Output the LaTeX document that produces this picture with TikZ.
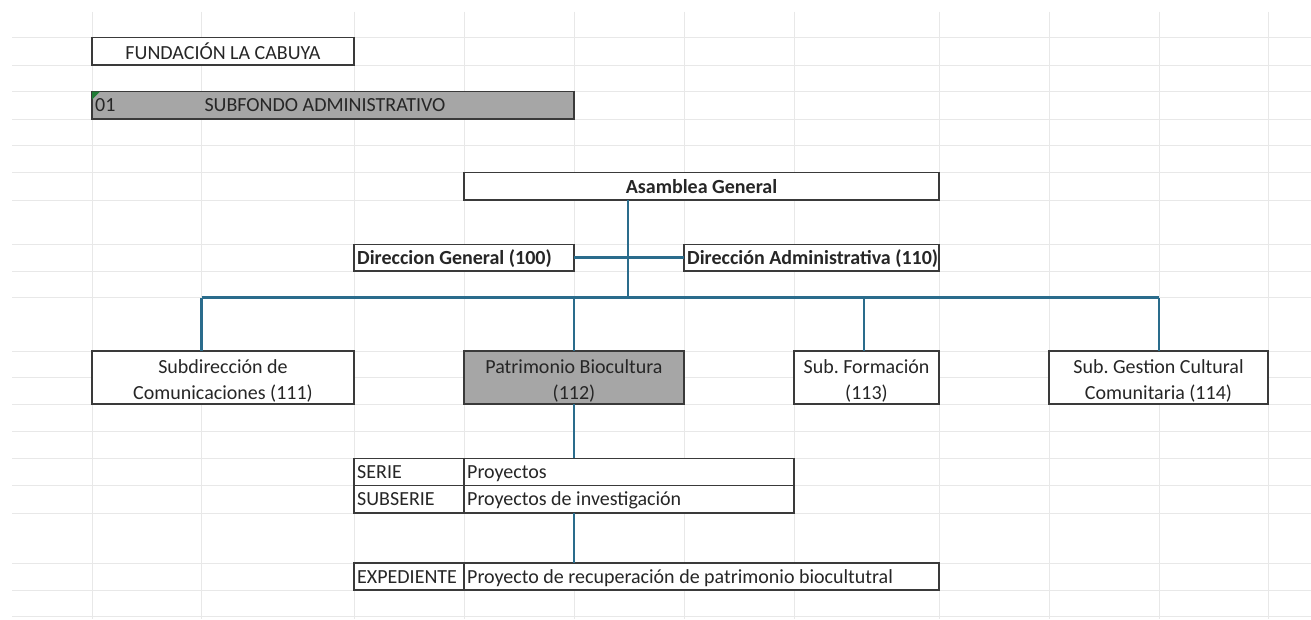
\documentclass[tikz,border=0pt]{standalone}
\usepackage{fontspec}
\setmainfont{Carlito}
\frenchspacing
\definecolor{gridc}{HTML}{E8E8E8}
\definecolor{linec}{HTML}{2A6C8C}
\definecolor{boxc}{HTML}{3A3A3A}
\definecolor{fillg}{HTML}{A6A6A6}
\definecolor{txt}{HTML}{262626}
\definecolor{flag}{HTML}{1E7B34}
\begin{document}
\frenchspacing
\begin{tikzpicture}[x=1pt,y=-1pt,
  gridline/.style={draw=gridc,line width=1pt},
  cell/.style={draw=boxc,line width=1.3pt,fill=white,inner sep=0pt,outer sep=0pt,
    text=txt,font=\fontsize{20}{26}\selectfont,align=center},
  graycell/.style={cell,fill=fillg},
  lab/.style={text=txt,font=\fontsize{20}{26}\selectfont,inner sep=0pt,anchor=west,
    text height=15pt,text depth=2pt},
  blab/.style={lab,font=\fontsize{20}{26}\selectfont\bfseries},
  two/.style={text=txt,font=\fontsize{20}{26}\selectfont,inner sep=0pt,align=center,yshift=-3pt},
  conn/.style={draw=linec,line width=2.4pt}]
\useasboundingbox (0,0) rectangle (1311,619);
\fill[white] (0,0) rectangle (1311,619);
% spreadsheet grid
\foreach \y in {37.3,65,91.7,119,145.7,172.7,200,244.3,271,297.7,351,377.7,404,431.3,458.3,485.7,513,563,590,616.3}
  \draw[gridline] (12,\y) -- (1311,\y);
\foreach \x in {92,201.5,354,464,574,684,794,939,1049,1159,1268}
  \draw[gridline] (\x,11.7) -- (\x,619);
% header cells
\node[cell,minimum width=262pt,minimum height=27.7pt] (fund) at (223,51.15) {FUNDACIÓN LA CABUYA};
\node[graycell,minimum width=482pt,minimum height=27.3pt] (subf) at (333,105.35) {};
\node[lab] (subfa) at (95,105.35) {01};
\node[lab,anchor=center] (subfb) at (325,105.35) {SUBFONDO ADMINISTRATIVO};
\fill[flag] (subf.north west) -- ++(8,0) -- ++(-8,8) -- cycle;
% org chart
\node[cell,font=\fontsize{20}{26}\selectfont\bfseries,minimum width=475pt,minimum height=27.3pt] (asam) at (701.5,186.35) {Asamblea General};
\node[cell,minimum width=220pt,minimum height=26.7pt] (dg) at (464,257.65) {};
\node[blab] (dgt) at (357,257.65) {Direccion General (100)};
\node[cell,minimum width=255pt,minimum height=26.7pt] (da) at (811.5,257.65) {};
\node[blab] (dat) at (687,257.65) {Dirección Administrativa (110)};
\node[cell,minimum width=262pt,minimum height=53pt] (s111) at (223,377.5) {};
\node[two] (s111t) at (s111) {Subdirección de\\Comunicaciones (111)};
\node[graycell,minimum width=220pt,minimum height=53pt] (s112) at (574,377.5) {};
\node[two] (s112t) at (s112) {Patrimonio Biocultura\\(112)};
\node[cell,minimum width=145pt,minimum height=53pt] (s113) at (866.5,377.5) {};
\node[two] (s113t) at (s113) {Sub.\ Formación\\(113)};
\node[cell,minimum width=219pt,minimum height=53pt] (s114) at (1158.5,377.5) {};
\node[two] (s114t) at (s114) {Sub.\ Gestion Cultural\\Comunitaria (114)};
% table
\node[cell,minimum width=110pt,minimum height=27.4pt] (serk) at (409,472) {};
\node[cell,minimum width=330pt,minimum height=27.4pt] (serv) at (629,472) {};
\node[cell,minimum width=110pt,minimum height=27.3pt] (subk) at (409,499.35) {};
\node[cell,minimum width=330pt,minimum height=27.3pt] (subv) at (629,499.35) {};
\node[cell,minimum width=110pt,minimum height=27pt] (expk) at (409,576.5) {};
\node[cell,minimum width=475pt,minimum height=27pt] (expv) at (701.5,576.5) {};
\node[lab] (serkt) at (357,472) {SERIE};
\node[lab] (servt) at (467,472) {Proyectos};
\node[lab] (subkt) at (357,499.35) {SUBSERIE};
\node[lab] (subvt) at (467,499.35) {Proyectos de investigación};
\node[lab] (expkt) at (357,576.5) {EXPEDIENTE};
\node[lab] (expvt) at (467,576.5) {Proyecto de recuperación de patrimonio biocultutral};
% connectors
\coordinate (busL) at (201.5,297.5);
\coordinate (busR) at (1159,297.5);
\coordinate (busC) at (628,297.5);
\coordinate (busP) at (574,297.5);
\coordinate (busF) at (864,297.5);
\draw[conn] (asam.south -| busC) -- (busC);
\draw[conn] (dg.east) -- (da.west);
\draw[conn] (busL) -- (busR);
\draw[conn] (busL) -- (s111.north -| busL);
\draw[conn] (busP) -- (s112.north);
\draw[conn] (busF) -- (s113.north -| busF);
\draw[conn] (busR) -- (s114.north -| busR);
\draw[conn] (s112.south) -- (s112.south |- serv.north);
\draw[conn] (s112.south |- subv.south) -- (s112.south |- expv.north);
\end{tikzpicture}
\end{document}
